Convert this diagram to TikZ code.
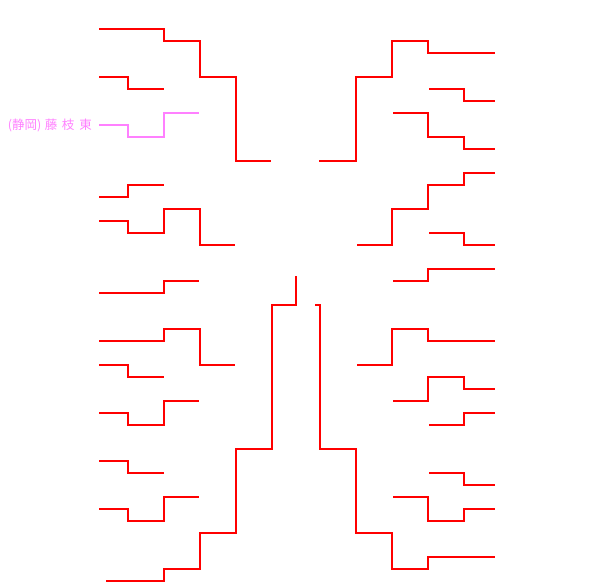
\documentclass[tikz,border=0pt]{standalone}
\usepackage{fontspec}
\newfontfamily\cjk{Noto Sans CJK JP}
\definecolor{bred}{HTML}{FF0000}
\definecolor{bpink}{HTML}{FF80FF}
\tikzset{
  bline/.style={draw=bred, line width=1.6pt, line cap=rect, line join=miter},
  pline/.style={draw=bpink, line width=1.6pt, line cap=rect, line join=miter},
  lbl/.style={text=bpink, font=\cjk\fontsize{12.5}{14}\selectfont, inner sep=0pt, anchor=east}
}
\begin{document}
\begin{tikzpicture}[x=1pt,y=-1pt]
\useasboundingbox (0,0) rectangle (593,587);
% left side
\draw[bline] (100,29) -- (164,29) -- (164,41) -- (200,41) -- (200,77) -- (236,77) -- (236,161) -- (270,161);
\draw[bline] (100,77) -- (128,77) -- (128,89) -- (163,89);
\draw[bline] (100,197) -- (128,197) -- (128,185) -- (163,185);
\draw[bline] (100,221) -- (128,221) -- (128,233) -- (164,233) -- (164,209) -- (200,209) -- (200,245) -- (234,245);
\draw[bline] (100,293) -- (164,293) -- (164,281) -- (198,281);
\draw[bline] (100,341) -- (164,341) -- (164,329) -- (200,329) -- (200,365) -- (234,365);
\draw[bline] (100,365) -- (128,365) -- (128,377) -- (163,377);
\draw[bline] (100,413) -- (128,413) -- (128,425) -- (164,425) -- (164,401) -- (198,401);
\draw[bline] (100,461) -- (128,461) -- (128,473) -- (163,473);
\draw[bline] (100,509) -- (128,509) -- (128,521) -- (164,521) -- (164,497) -- (198,497);
\draw[bline] (107,581) -- (164,581) -- (164,569) -- (200,569) -- (200,533) -- (236,533) -- (236,449) -- (272,449) -- (272,305) -- (296,305) -- (296,277);
% highlighted team
\node[lbl] (team) at (92,125) {(静岡)\hspace{3.5pt}藤\hspace{4.5pt}枝\hspace{5pt}東};
\coordinate (pstart) at (100,125);
\draw[pline] (pstart) -- (128,125) -- (128,137) -- (164,137) -- (164,113) -- (198,113);
% right side
\draw[bline] (320,161) -- (356,161) -- (356,77) -- (392,77) -- (392,41) -- (428,41) -- (428,53) -- (494,53);
\draw[bline] (430,89) -- (464,89) -- (464,101) -- (494,101);
\draw[bline] (394,113) -- (428,113) -- (428,137) -- (464,137) -- (464,149) -- (494,149);
\draw[bline] (358,245) -- (392,245) -- (392,209) -- (428,209) -- (428,185) -- (464,185) -- (464,173) -- (494,173);
\draw[bline] (430,233) -- (464,233) -- (464,245) -- (494,245);
\draw[bline] (394,281) -- (428,281) -- (428,269) -- (494,269);
\draw[bline] (358,365) -- (392,365) -- (392,329) -- (428,329) -- (428,341) -- (494,341);
\draw[bline] (394,401) -- (428,401) -- (428,377) -- (464,377) -- (464,389) -- (494,389);
\draw[bline] (430,425) -- (464,425) -- (464,413) -- (494,413);
\draw[bline] (430,473) -- (464,473) -- (464,485) -- (494,485);
\draw[bline] (394,497) -- (428,497) -- (428,521) -- (464,521) -- (464,509) -- (494,509);
\draw[bline] (316,305) -- (320,305) -- (320,449) -- (356,449) -- (356,533) -- (392,533) -- (392,569) -- (428,569) -- (428,557) -- (494,557);
\end{tikzpicture}
\end{document}
